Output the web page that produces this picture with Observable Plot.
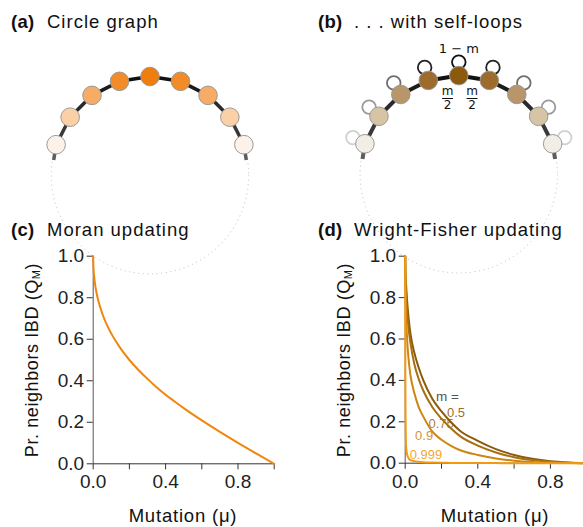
<!DOCTYPE html>
<html><head><meta charset="utf-8">
<script src="https://cdn.jsdelivr.net/npm/d3@7"></script>
<script src="https://cdn.jsdelivr.net/npm/@observablehq/plot@0.6"></script>
<style>
html,body{margin:0;padding:0;background:#fff;}
#fig{position:relative;width:583px;height:527px;overflow:hidden;font-family:"Liberation Sans",Arial,sans-serif;}
#fig > div{position:absolute;}
#fig svg{overflow:visible;background:transparent;max-width:none !important;}
#txt{position:absolute;left:0;top:0;pointer-events:none;}
</style>
</head><body>
<div id="fig">
<div id="pa" style="left:0;top:0;width:291px"></div>
<div id="pb" style="left:291px;top:0;width:292px"></div>
<div id="pc" style="left:0;top:240px;width:291px"></div>
<div id="pd" style="left:291px;top:240px;width:296px"></div>
</div>
<script>
// ---------- data ----------
const ringSize = 20;
const shownOffsets = [-4, -3, -2, -1, 0, 1, 2, 3, 4];
const shadeA = ["#f07e0e", "#f28c28", "#f6ac64", "#fbd0a6", "#fdf2e9"];
const shadeB = ["#8b5a0b", "#9d6b2b", "#b99669", "#d7c4a4", "#f2ede5"];
const loopGrey = ["#111111", "#222222", "#6e6e6e", "#9a9a9a", "#d0d0d0"];
const edgeGrey = ["#111111", "#1c1c1c", "#2a2a2a", "#383838", "#5c5c5c"];

const muMoran = [0, 0.0005, 0.002, 0.005, 0.01, 0.02, 0.03, 0.05, 0.075, 0.1, 0.15, 0.2, 0.25, 0.3, 0.35, 0.4, 0.45, 0.5, 0.6, 0.7, 0.8, 0.9, 1.0];
const moranQ  = [1, 0.97, 0.938, 0.905, 0.867, 0.817, 0.780, 0.724, 0.670, 0.627, 0.557, 0.500, 0.452, 0.409, 0.369, 0.333, 0.300, 0.268, 0.209, 0.154, 0.101, 0.050, 0];

const muWF = [0, 0.001, 0.002, 0.005, 0.01, 0.02, 0.03, 0.05, 0.075, 0.1, 0.15, 0.2, 0.25, 0.3, 0.4, 0.5, 0.6, 0.7, 0.8, 0.9, 1.0];
const mValues = [0.5, 0.75, 0.9, 0.999];
const wfQ_m050 = [1, 0.93, 0.90, 0.86, 0.79, 0.69, 0.62, 0.535, 0.46, 0.40, 0.31, 0.25, 0.20, 0.158, 0.108, 0.068, 0.040, 0.021, 0.009, 0.003, 0];
const wfQ_m075 = [1, 0.91, 0.87, 0.82, 0.74, 0.64, 0.575, 0.48, 0.405, 0.35, 0.27, 0.215, 0.17, 0.132, 0.085, 0.052, 0.029, 0.015, 0.006, 0.002, 0];
const wfQ_m090 = [1, 0.88, 0.84, 0.72, 0.61, 0.49, 0.42, 0.34, 0.27, 0.225, 0.152, 0.113, 0.085, 0.064, 0.040, 0.023, 0.012, 0.006, 0.003, 0.001, 0];
const wfQ_m999 = [1, 0.40, 0.25, 0.08, 0.045, 0.022, 0.015, 0.010, 0.007, 0.005, 0.003, 0.002, 0.0015, 0.001, 0.001, 0.0005, 0, 0, 0, 0, 0];
const mColors = ["#8c5a0c", "#a66f10", "#cc8612", "#f49a10"];
const mLabelText = ["0.5", "0.75", "0.9", "0.999"];
const mLabelMu = [0.28, 0.198, 0.104, 0.114];
const mLabelQ  = [0.244, 0.192, 0.134, 0.042];
const moranColor = "#f0860e";

const xTicks = [0, 0.2, 0.4, 0.6, 0.8, 1.0];
const xTickLabels = ["0.0", "", "0.4", "", "0.8", ""];
const yTicks = [0, 0.2, 0.4, 0.6, 0.8, 1.0];
const yTickLabels = ["0.0", "0.2", "0.4", "0.6", "0.8", "1.0"];

// ---------- graph panels ----------
const R = 98.7;
const FONT = '"Liberation Sans", Arial, sans-serif';
const MATH = '"DejaVu Sans", sans-serif';

function graphPanel({width, height, cx, cy, shades, selfLoops, edgeW}) {
  const step = 2 * Math.PI / ringSize;
  const pos = k => [Math.sin(k * step), Math.cos(k * step)];
  const nodes = shownOffsets.map(k => ({k, x: pos(k)[0], y: pos(k)[1], fill: shades[Math.abs(k)]}));
  const edges = [];
  for (let k = -5; k <= 4; k++) {
    let [x1, y1] = pos(k), [x2, y2] = pos(k + 1);
    if (k === -5) { x1 = (x1 + x2) / 2; y1 = (y1 + y2) / 2; }
    if (k === 4) { x2 = (x1 + x2) / 2; y2 = (y1 + y2) / 2; }
    edges.push({x1, y1, x2, y2, stroke: edgeGrey[Math.max(Math.abs(k), Math.abs(k + 1)) - 1]});
  }
  const marks = [
    Plot.dot([[0, 0]], {r: R, fill: "none", stroke: "#bdbdbd", strokeWidth: 1, strokeDasharray: "1 3.6"}),
    Plot.link(edges, {x1: "x1", y1: "y1", x2: "x2", y2: "y2", stroke: "stroke", strokeWidth: edgeW})
  ];
  if (selfLoops) {
    const off = 13.5 / R;
    const loops = shownOffsets.map(k => {
      const a = k * step * 0.87;
      return {x: pos(k)[0] + off * Math.sin(a), y: pos(k)[1] + off * Math.cos(a), stroke: loopGrey[Math.abs(k)]};
    });
    marks.push(Plot.dot(loops, {x: "x", y: "y", r: 6.8, fill: "none", stroke: "stroke", strokeWidth: 1.8}));
  }
  marks.push(Plot.dot(nodes, {x: "x", y: "y", r: 9.3, fill: "fill", stroke: "#9a9a9a", strokeWidth: 1}));
  if (selfLoops) {
    const top = pos(0);
    marks.push(Plot.text([top], {x: d => d[0], y: d => d[1], text: () => "1 \u2212 m", dy: -27, fontSize: 13, fill: "#111", fontFamily: MATH, wordSpacing: 3}));
    const mid = s => { const a = pos(0), b = pos(s); return {x: (a[0] + b[0]) / 2, y: (a[1] + b[1]) / 2}; };
    const fracs = [{s: -1, dx: 4}, {s: 1, dx: -2}];
    fracs.forEach(f => {
      const m = [mid(f.s)];
      marks.push(Plot.text(m, {x: "x", y: "y", text: () => "m", dx: f.dx, dy: 13.5, fontSize: 12, fill: "#111", fontFamily: MATH}));
      marks.push(Plot.text(m, {x: "x", y: "y", text: () => "2", dx: f.dx, dy: 27.5, fontSize: 12, fill: "#111", fontFamily: MATH}));
      marks.push(Plot.link(m, {x1: d => d.x + (f.dx - 5.5) / R, x2: d => d.x + (f.dx + 5.5) / R, y1: "y", y2: "y", dy: 20.5, stroke: "#111", strokeWidth: 1}));
    });
  }
  return Plot.plot({
    width, height, margin: 0,
    x: {domain: [-cx / R, (width - cx) / R], axis: null},
    y: {domain: [-(height - cy) / R, cy / R], axis: null},
    color: {type: "identity"},
    style: {background: "transparent", overflow: "visible"},
    marks
  });
}

document.getElementById("pa").append(graphPanel({width: 291, height: 290, cx: 149.5, cy: 174.7, shades: shadeA, selfLoops: false, edgeW: 3.5}));
document.getElementById("pb").append(graphPanel({width: 292, height: 290, cx: 167.3, cy: 173.8, shades: shadeB, selfLoops: true, edgeW: 4}));

// ---------- line panels ----------
function axesMarks() {
  return [
    Plot.ruleY([0], {stroke: "#333", strokeWidth: 1}),
    Plot.ruleX([0], {stroke: "#555", strokeWidth: 1}),
    Plot.axisX({ticks: xTicks, tickFormat: d => xTickLabels[xTicks.indexOf(d)], tickSize: 6, tickPadding: 5, label: null, fontSize: 19, stroke: "#333", style: {letterSpacing: "0.8px"}}),
    Plot.axisY({ticks: yTicks, tickFormat: d => yTickLabels[yTicks.indexOf(d)], tickSize: 6, tickPadding: 3, label: null, fontSize: 19, stroke: "#333", style: {letterSpacing: "0.8px"}})
  ];
}

const moranData = muMoran.map((u, i) => ({mu: u, q: moranQ[i]}));
document.getElementById("pc").append(Plot.plot({
  width: 291, height: 287,
  marginLeft: 92.7, marginRight: 17.3, marginTop: 15.7, marginBottom: 63.7,
  x: {domain: [0, 1]}, y: {domain: [0, 1]},
  style: {fontFamily: FONT, color: "#222", background: "transparent", overflow: "visible"},
  marks: [
    ...axesMarks(),
    Plot.line(moranData, {x: "mu", y: "q", stroke: moranColor, strokeWidth: 2, curve: "monotone-x"})
  ]
}));

const wfSeries = [wfQ_m050, wfQ_m075, wfQ_m090, wfQ_m999];
const wfData = mValues.flatMap((m, j) => muWF.map((u, i) => ({mu: u, q: wfSeries[j][i], m, color: mColors[j]})));
const wfLabels = mLabelText.map((t, j) => ({t, mu: mLabelMu[j], q: mLabelQ[j], color: mColors[j]}));
document.getElementById("pd").append(Plot.plot({
  width: 296, height: 287,
  marginLeft: 113.7, marginRight: 0.8, marginTop: 15.7, marginBottom: 64.3,
  x: {domain: [0, 1]}, y: {domain: [0, 1]},
  color: {type: "identity"},
  style: {fontFamily: FONT, color: "#222", background: "transparent", overflow: "visible"},
  marks: [
    ...axesMarks(),
    Plot.text([{t: "m =", mu: 0.233, q: 0.322}], {x: "mu", y: "q", text: "t", fill: "#555", fontSize: 13.5}),
    Plot.text(wfLabels, {x: "mu", y: "q", text: "t", fill: "color", fontSize: 13, fillOpacity: 0.9}),
    Plot.line(wfData, {x: "mu", y: "q", z: "m", stroke: "color", strokeWidth: 2, curve: "monotone-x"})
  ]
}));

// ---------- titles & axis labels ----------
const fig = d3.select("#fig");
const svg = fig.append("svg").attr("id", "txt").attr("width", 583).attr("height", 527)
  .style("font-family", FONT).style("font-size", "18.5px").style("fill", "#111");
const titles = [
  {tag: "(a)", text: "Circle graph", x: 11, x2: 47, y: 28},
  {tag: "(b)", text: ". . . with self-loops", x: 318, x2: 354, y: 28},
  {tag: "(c)", text: "Moran updating", x: 11, x2: 47, y: 235.5},
  {tag: "(d)", text: "Wright-Fisher updating", x: 318, x2: 354, y: 235.5}
];
titles.forEach(t => {
  svg.append("text").attr("x", t.x).attr("y", t.y).attr("font-weight", "bold").style("letter-spacing", "0.3px").text(t.tag);
  svg.append("text").attr("x", t.x2).attr("y", t.y).style("letter-spacing", "1px").text(t.text);
});
[183, 495].forEach(cx => {
  svg.append("text").attr("x", cx).attr("y", 521.5).attr("text-anchor", "middle").style("letter-spacing", "0.8px").style("font-size", "18.5px").text("Mutation (\u03bc)");
});
[31.7, 343.7].forEach(cx => {
  const t = svg.append("text").attr("transform", `translate(${cx},360) rotate(-90)`).attr("text-anchor", "middle")
    .attr("dominant-baseline", "central").style("font-size", "18px").style("letter-spacing", "0.6px");
  t.append("tspan").text("Pr. neighbors IBD (Q");
  t.append("tspan").attr("dy", 4).style("font-size", "11px").text("M");
  t.append("tspan").attr("dy", -4).text(")");
});
</script>
</body></html>
